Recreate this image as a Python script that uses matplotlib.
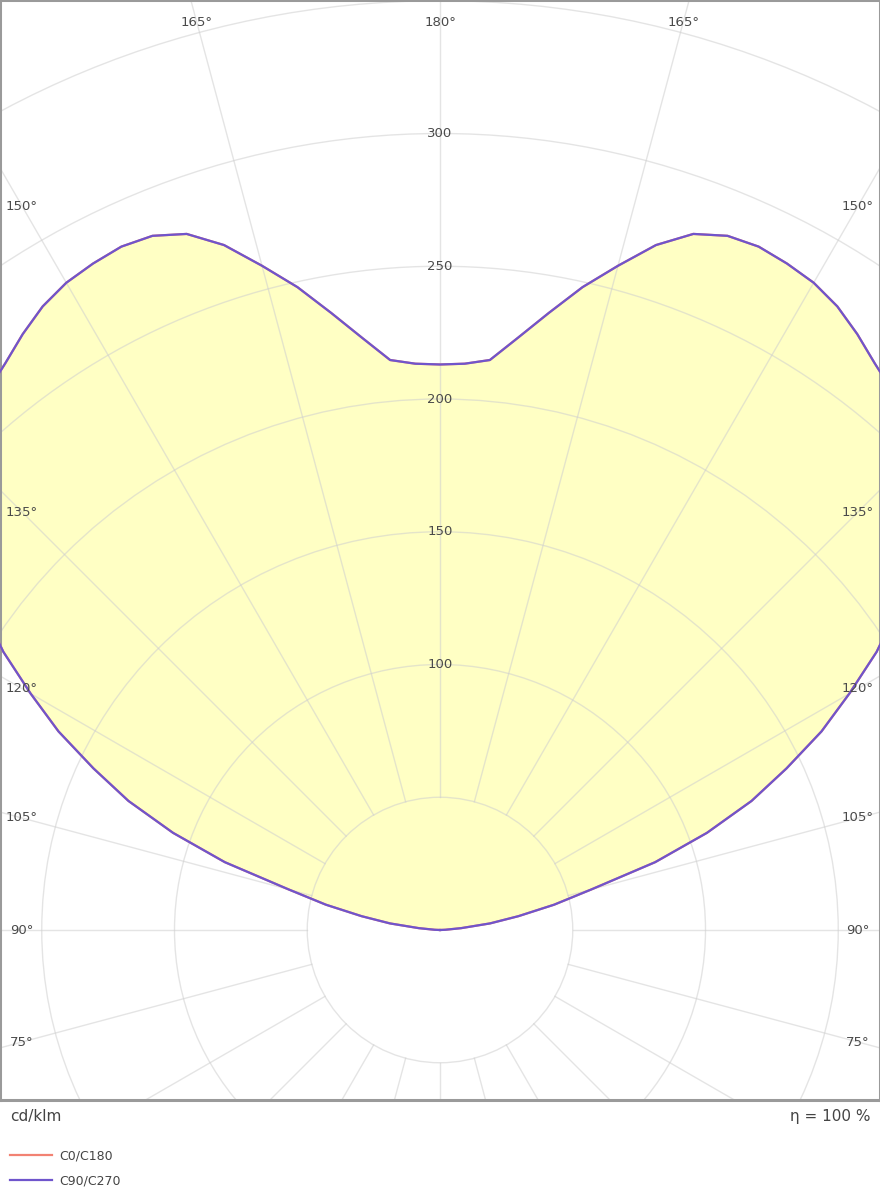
import numpy as np
import matplotlib
matplotlib.use("Agg")
import matplotlib.pyplot as plt
from matplotlib.patches import Circle

# luminous intensity (cd/klm) against gamma angle, 0 deg = straight down
gamma = [90, 92.5, 95, 97.5, 100, 102.5, 105, 107.5, 110, 112.5, 115,
         117.5, 120, 122.5, 125, 127.5, 130, 132.5, 135, 137.5, 140,
         142.5, 145, 147.5, 150, 152.5, 155, 157.5, 160, 162.5, 165,
         167.5, 170, 172.5, 175, 177.5, 180]
c90_c270 = [0, 2, 8, 19, 30, 44, 59, 85, 107, 127, 144,
            162, 178, 195, 210, 225, 237, 247, 255, 261, 265,
            269, 274, 278.5, 281.5, 283, 284, 283, 279, 270.5, 259,
            248, 236, 225, 215.5, 213.5, 213]
c0_c180 = [0, 2, 8, 19, 30, 44, 59, 85, 107, 127, 144,
           162, 178, 195, 210, 225, 237, 247, 255, 261, 265,
           269, 274, 278.5, 281.5, 283, 284, 283, 279, 270.5, 259,
           248, 236, 225, 215.5, 213.5, 213]

ring_values = [50, 100, 150, 200, 250, 300, 350, 400]
ring_labels = [100, 150, 200, 250, 300]
spoke_angles = list(range(0, 360, 15))
side_labels = [150, 135, 120, 105, 90, 75]
top_labels = [165, 180]

plane_names = ["C0/C180", "C90/C270"]
plane_colors = ["#f28273", "#6f55cc"]

S = 2.655  # px per cd/klm
fig = plt.figure(figsize=(8.8, 12), dpi=100)
ax = fig.add_axes([0, 100 / 1200, 1, 1100 / 1200])
xmin, xmax = -440 / S, 440 / S
ymin, ymax = -170 / S, 930 / S
ax.set_xlim(xmin, xmax)
ax.set_ylim(ymin, ymax)
ax.set_aspect("equal")
ax.set_xticks([])
ax.set_yticks([])
for sp in ax.spines.values():
    sp.set_color("#9a9a9a")
    sp.set_linewidth(2.2)


def curve(values):
    g = np.radians(np.array(gamma, dtype=float))
    v = np.array(values, dtype=float)
    xr, yr = v * np.sin(g), -v * np.cos(g)
    # left half mirrored (C270 / C180 side)
    x = np.concatenate([xr, -xr[::-1]])
    y = np.concatenate([yr, yr[::-1]])
    return x, y


xf, yf = curve(c90_c270)
ax.fill(xf, yf, color="#ffffc4", lw=0, zorder=1)

# grid
grid_kw = dict(color="#cfcfcf", lw=1.0, alpha=0.55, zorder=2)
for r in ring_values:
    ax.add_patch(Circle((0, 0), r, fill=False, **grid_kw))
for a in spoke_angles:
    t = np.radians(a)
    ax.plot([50 * np.sin(t), 450 * np.sin(t)], [-50 * np.cos(t), -450 * np.cos(t)], **grid_kw)

lines = []
for vals, name, col in zip([c0_c180, c90_c270], plane_names, plane_colors):
    x, y = curve(vals)
    ln, = ax.plot(x, y, color=col, lw=1.6, zorder=3, label=name)
    lines.append(ln)

txt_kw = dict(fontsize=9.5, color="#4a4a4a", ha="center", va="center", zorder=4,
              family="DejaVu Sans")
for r in ring_labels:
    ax.text(0, r, str(r), **txt_kw)

pad = 22 / S
for a in side_labels:
    t = np.radians(a)
    xe = -xmin - pad
    rr = xe / np.sin(t)
    ye = -rr * np.cos(t)
    ax.text(-xe, ye, f"{a}°", **txt_kw)
    ax.text(xe, ye, f"{a}°", **txt_kw)
for a in top_labels:
    t = np.radians(a)
    ye = ymax - pad
    rr = ye / -np.cos(t)
    xe = rr * np.sin(t)
    if a == 180:
        ax.text(0, ye, f"{a}°", **txt_kw)
    else:
        ax.text(-xe, ye, f"{a}°", **txt_kw)
        ax.text(xe, ye, f"{a}°", **txt_kw)

fig.text(10 / 880, 1 - 1117 / 1200, "cd/klm", fontsize=11, color="#444444",
         ha="left", va="center")
fig.text(870 / 880, 1 - 1117 / 1200, "η = 100 %", fontsize=11, color="#444444",
         ha="right", va="center")
fig.legend(handles=lines, labels=plane_names, loc="upper left",
           bbox_to_anchor=(4 / 880, 1 - 1143 / 1200), frameon=False,
           fontsize=9, handlelength=3.3, labelspacing=0.95, borderpad=0,
           handletextpad=0.6, labelcolor="#444444")

fig.savefig("out.png", dpi=100)
